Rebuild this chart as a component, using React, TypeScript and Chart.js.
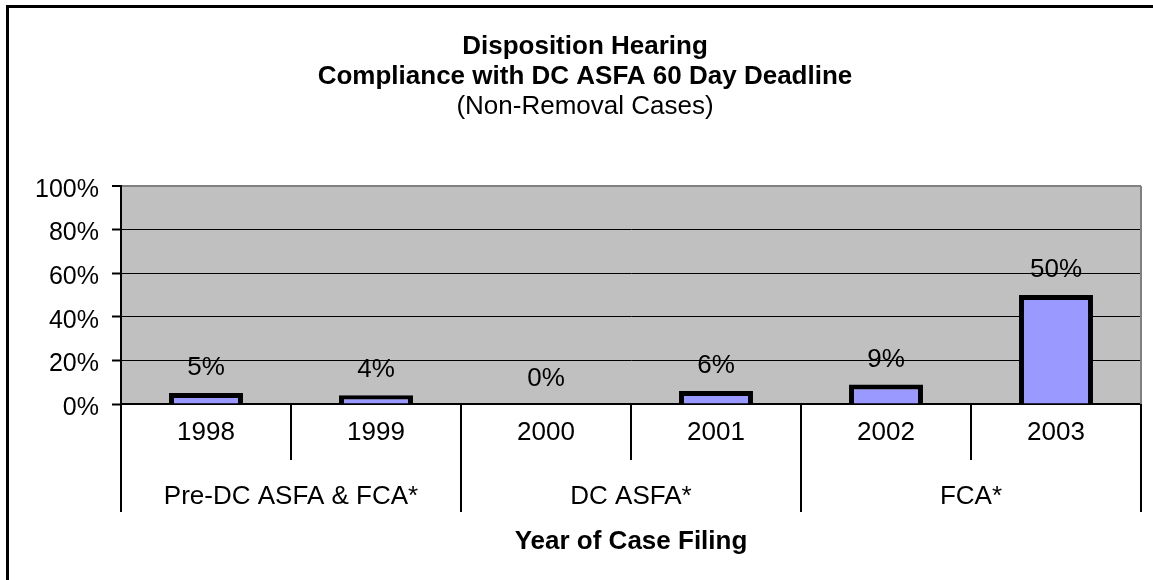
import React, { useEffect, useRef } from 'react';
import { Chart, registerables } from 'chart.js';

Chart.register(...registerables);

const years = ['1998', '1999', '2000', '2001', '2002', '2003'];
const periods = ['Pre-DC ASFA & FCA*', 'DC ASFA*', 'FCA*'];
const compliance = [5, 4, 0, 6, 9, 50];
const yTicks = [0, 20, 40, 60, 80, 100];
const titleLines = ['Disposition Hearing', 'Compliance with DC ASFA 60 Day Deadline'];
const subtitleText = '(Non-Removal Cases)';
const xTitle = 'Year of Case Filing';

const FONT = "Arial, 'Liberation Sans', sans-serif";

const framePlugin = {
  id: 'frame',
  beforeDraw(chart: any) {
    const { ctx, chartArea: a } = chart;
    ctx.save();
    ctx.fillStyle = '#C0C0C0';
    ctx.fillRect(a.left, a.top, a.right - a.left, a.bottom - a.top);
    ctx.restore();
  },
  beforeDatasetsDraw(chart: any) {
    const { ctx, chartArea: a } = chart;
    ctx.save();
    ctx.strokeStyle = '#808080';
    ctx.lineWidth = 2;
    ctx.beginPath();
    ctx.moveTo(a.right, a.top);
    ctx.lineTo(a.right, a.bottom);
    ctx.stroke();
    ctx.restore();
  },
  afterDraw(chart: any) {
    const { ctx, width, height } = chart;
    ctx.save();
    ctx.fillStyle = '#000';
    ctx.fillRect(6, 5, 3, height - 5);
    ctx.fillRect(6, 5, width - 6, 3);
    ctx.restore();
  },
};

const labelPlugin = {
  id: 'barLabels',
  afterDatasetsDraw(chart: any) {
    const { ctx } = chart;
    const meta = chart.getDatasetMeta(0);
    const data = chart.data.datasets[0].data as number[];
    ctx.save();
    ctx.font = `26px ${FONT}`;
    ctx.fillStyle = '#000';
    ctx.textAlign = 'center';
    ctx.textBaseline = 'middle';
    meta.data.forEach((el: any, i: number) => {
      ctx.fillText(`${data[i]}%`, el.x, el.y - 25);
    });
    ctx.restore();
  },
};

export default function App() {
  const ref = useRef<HTMLCanvasElement>(null);

  useEffect(() => {
    if (!ref.current) return;
    Chart.defaults.font.family = FONT;
    Chart.defaults.color = '#000';
    const chart = new Chart(ref.current, {
      type: 'bar',
      data: {
        labels: years,
        datasets: [
          {
            data: compliance,
            backgroundColor: '#9999FF',
            borderColor: '#000',
            borderWidth: 5,
            barPercentage: 0.435,
            categoryPercentage: 1,
          },
        ],
      },
      options: {
        responsive: false,
        animation: false,
        devicePixelRatio: 1,
        layout: { padding: { top: 0, left: 29, right: 12, bottom: 0 } },
        plugins: {
          legend: { display: false },
          tooltip: { enabled: false },
          title: {
            display: true,
            text: titleLines,
            color: '#000',
            font: { size: 26, weight: 'bold', lineHeight: 30 / 26 },
            padding: { top: 32, bottom: 0 },
          },
          subtitle: {
            display: true,
            text: subtitleText,
            color: '#000',
            font: { size: 26, weight: 'normal', lineHeight: 30 / 26 },
            padding: { top: 0, bottom: 64 },
          },
        },
        scales: {
          y: {
            min: yTicks[0],
            max: yTicks[yTicks.length - 1],
            afterFit: (s: any) => {
              s.width = 92;
            },
            afterBuildTicks: (s: any) => {
              s.ticks = yTicks.map((v) => ({ value: v }));
            },
            border: { display: true, color: '#000', width: 2 },
            grid: {
              color: (c: any) => (c.tick && c.tick.value === 100 ? '#808080' : '#000'),
              lineWidth: (c: any) => (c.tick && c.tick.value === 100 ? 2 : 1),
              tickColor: '#000',
              tickWidth: 2,
              tickLength: 9,
            },
            ticks: {
              color: '#000',
              font: { size: 25 },
              padding: 13,
              labelOffset: 4,
              callback: (v: any) => `${v}%`,
            },
          },
          x: {
            type: 'category',
            position: 'bottom',
            weight: 0,
            offset: true,
            afterFit: (s: any) => {
              s.height = 56;
            },
            border: { display: true, color: '#000', width: 2 },
            grid: {
              offset: true,
              drawOnChartArea: false,
              tickLength: 56,
              color: '#000',
              lineWidth: 2,
            },
            ticks: {
              color: '#000',
              font: { size: 26, lineHeight: 1.2 },
              padding: -42.6,
              autoSkip: false,
              maxRotation: 0,
            },
          },
          x2: {
            type: 'category',
            labels: periods,
            position: 'bottom',
            weight: 1,
            offset: true,
            afterFit: (s: any) => {
              s.height = 120;
            },
            border: { display: false },
            grid: {
              offset: true,
              drawOnChartArea: false,
              tickLength: 52,
              color: '#000',
              lineWidth: 2,
            },
            ticks: {
              color: '#000',
              font: { size: 26, lineHeight: 1.2 },
              padding: -30.6,
              autoSkip: false,
              maxRotation: 0,
            },
            title: {
              display: true,
              text: xTitle,
              color: '#000',
              font: { size: 26, weight: 'bold', lineHeight: 1.2 },
              padding: { top: 0, bottom: 22.4 },
            },
          },
        },
      } as any,
      plugins: [framePlugin, labelPlugin],
    });
    return () => chart.destroy();
  }, []);

  return (
    <div style={{ position: 'absolute', left: 0, top: 0, width: 1153, height: 580, background: '#fff' }}>
      <canvas ref={ref} width={1153} height={580} />
    </div>
  );
}
